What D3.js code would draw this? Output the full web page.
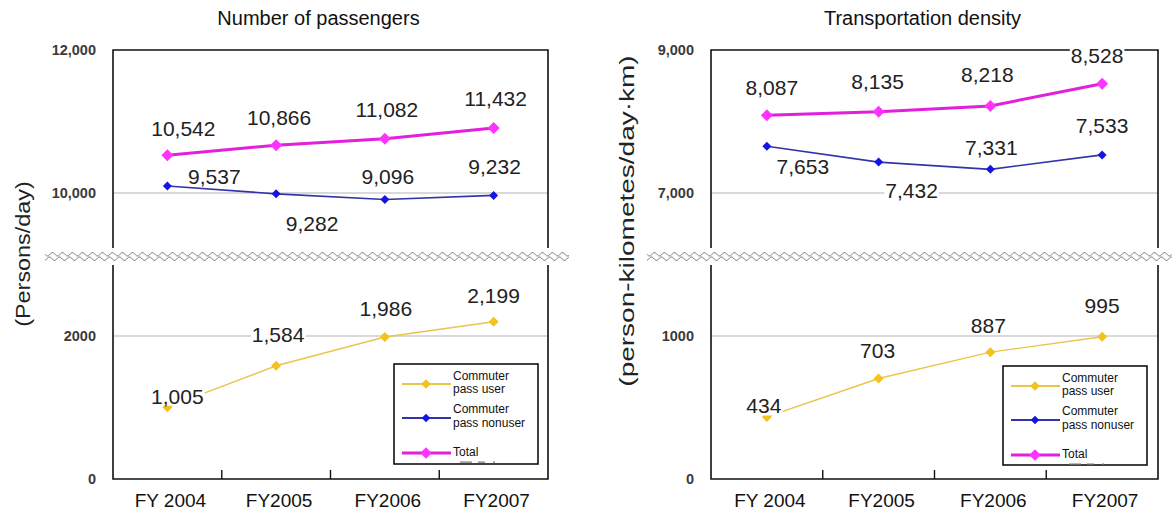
<!DOCTYPE html>
<html><head><meta charset="utf-8">
<script src="https://cdn.jsdelivr.net/npm/d3@7"></script>
<style>
body{margin:0;background:#fff}
svg{display:block;font-family:"Liberation Sans",Arial,sans-serif}
</style></head><body>
<svg id="chart" width="1172" height="514"></svg>
<script>
// ---- data ----
const categories = ["FY 2004", "FY2005", "FY2006", "FY2007"];
const seriesKeys = ["user", "nonuser", "total"];
const legendLines = [["Commuter", "pass user"], ["Commuter", "pass nonuser"], ["Total"]];

const passengersUser    = [1005, 1584, 1986, 2199];
const passengersNonuser = [9537, 9282, 9096, 9232];
const passengersTotal   = [10542, 10866, 11082, 11432];

const densityUser    = [434, 703, 887, 995];
const densityNonuser = [7653, 7432, 7331, 7533];
const densityTotal   = [8087, 8135, 8218, 8528];

const passengersUpperTicks = [10000, 12000];
const passengersUpperTickLabels = ["10,000", "12,000"];
const passengersLowerTicks = [0, 2000];
const passengersLowerTickLabels = ["0", "2000"];

const densityUpperTicks = [7000, 9000];
const densityUpperTickLabels = ["7,000", "9,000"];
const densityLowerTicks = [0, 1000];
const densityLowerTickLabels = ["0", "1000"];

const valueFormat = d3.format(",");

// ---- styles ----
const style = {
  user:    {line: "#e9c54a", lineW: 1.4, mark: "#f2c21e", r: 5},
  nonuser: {line: "#3434a8", lineW: 1.6, mark: "#1414e6", r: 4.5},
  total:   {line: "#e21fdc", lineW: 3,   mark: "#ff33ff", r: 6}
};

// diamond (rotated square) symbol
const diamond = {
  draw(ctx, size) {
    const r = Math.sqrt(size / 2);
    ctx.moveTo(0, -r); ctx.lineTo(r, 0); ctx.lineTo(0, r); ctx.lineTo(-r, 0); ctx.closePath();
  }
};

const svg = d3.select("#chart");

function drawPanel(cfg) {
  const g = svg.append("g");
  const x = d3.scaleBand().domain(categories).range([cfg.left, cfg.right]);
  const cx = d => x(d) + x.bandwidth() / 2;

  // title
  g.append("text").attr("x", (cfg.left + cfg.right) / 2 - 12).attr("y", 25)
    .attr("text-anchor", "middle").attr("font-size", 20).attr("fill", "#111").text(cfg.title);

  // y title (drawn narrow and tall)
  g.append("text")
    .attr("transform", `translate(${cfg.yTitleX},${cfg.yTitleY}) rotate(-90) scale(${cfg.yTitleStretch},1)`)
    .attr("text-anchor", "middle").attr("dominant-baseline", "central")
    .attr("font-size", 20).attr("fill", "#222").text(cfg.yTitle);

  // gridlines
  const grid = [];
  cfg.upperTicks.forEach((t, i) => grid.push({y: cfg.yUpperAxis(t), label: cfg.upperTickLabels[i]}));
  cfg.lowerTicks.forEach((t, i) => grid.push({y: cfg.yLower(t), label: cfg.lowerTickLabels[i]}));
  g.selectAll(".grid").data(grid.filter(d => d.y > cfg.top + 1 && d.y < cfg.bottom - 1)).join("line")
    .attr("x1", cfg.left).attr("x2", cfg.right).attr("y1", d => d.y).attr("y2", d => d.y)
    .attr("stroke", "#b4b4b4").attr("stroke-width", 1.2);
  g.selectAll(".tick").data(grid).join("text")
    .attr("x", cfg.left - 17).attr("y", d => d.y).attr("dy", "0.36em")
    .attr("text-anchor", "end").attr("font-size", 14.5).attr("font-weight", "bold")
    .attr("fill", "#3a3a3a").text(d => d.label);

  // frame
  const frame = g.append("g").attr("stroke", "#111").attr("stroke-width", 1.6).attr("fill", "none");
  frame.append("path").attr("d", `M${cfg.left},${cfg.breakTop}V${cfg.top}H${cfg.right}V${cfg.breakTop}`);
  frame.append("path").attr("d", `M${cfg.left},${cfg.breakBottom}V${cfg.bottom}H${cfg.right}V${cfg.breakBottom}`);
  // inner category ticks
  g.selectAll(".xt").data(categories.slice(1)).join("line")
    .attr("x1", d => x(d)).attr("x2", d => x(d)).attr("y1", cfg.bottom).attr("y2", cfg.bottom - 9)
    .attr("stroke", "#111").attr("stroke-width", 1.4);
  // category labels
  g.selectAll(".xl").data(categories).join("text")
    .attr("x", d => cx(d) + 3).attr("y", cfg.bottom + 28).attr("text-anchor", "middle")
    .attr("font-size", 19).attr("fill", "#111").text(d => d);

  // axis break: white band with two wavy lines
  const bMid = (cfg.breakTop + cfg.breakBottom) / 2;
  g.append("rect").attr("x", cfg.waveX0).attr("y", bMid - 5).attr("width", cfg.waveX1 - cfg.waveX0)
    .attr("height", 10).attr("fill", "#fff");
  const wave = (base, phase) => d3.line()(d3.range(cfg.waveX0, cfg.waveX1 + 0.5, 0.5)
    .map(px => [px, base + 1.7 * Math.sin(2 * Math.PI * (px - cfg.waveX0) / 10 + phase)]));
  g.append("path").attr("d", wave(bMid - 2.2, 0)).attr("fill", "none").attr("stroke", "#707070").attr("stroke-width", 1);
  g.append("path").attr("d", wave(bMid + 2.2, 1.9)).attr("fill", "none").attr("stroke", "#707070").attr("stroke-width", 1);

  // series
  const series = [
    {key: "user", values: cfg.user, y: cfg.yLower, offsets: cfg.offsets.user},
    {key: "nonuser", values: cfg.nonuser, y: cfg.yUpper, offsets: cfg.offsets.nonuser},
    {key: "total", values: cfg.total, y: cfg.yUpper, offsets: cfg.offsets.total}
  ];
  series.forEach(s => {
    const st = style[s.key];
    const pts = s.values.map((v, i) => [cx(categories[i]), s.y(v)]);
    g.append("path").attr("d", d3.line()(pts)).attr("fill", "none")
      .attr("stroke", st.line).attr("stroke-width", st.lineW);
    g.selectAll(null).data(pts).join("path")
      .attr("transform", d => `translate(${d[0]},${d[1]})`)
      .attr("d", d3.symbol(diamond, 2 * st.r * st.r)()).attr("fill", st.mark);
  });
  // value labels on white backing
  series.forEach(s => {
    s.values.forEach((v, i) => {
      const lg = g.append("g");
      const t = lg.append("text")
        .attr("x", cx(categories[i]) + s.offsets[i][0])
        .attr("y", s.y(v) + s.offsets[i][1]).attr("dy", "0.36em")
        .attr("text-anchor", "middle").attr("font-size", 21).attr("fill", "#222")
        .text(valueFormat(v));
      const b = t.node().getBBox();
      lg.insert("rect", "text").attr("x", b.x - 1).attr("y", b.y + 2)
        .attr("width", b.width + 2).attr("height", b.height - 4).attr("fill", "#fff");
    });
  });

  // legend
  const L = cfg.legend;
  const lgd = g.append("g").attr("transform", `translate(${L.x},${L.y})`);
  lgd.append("rect").attr("width", L.w).attr("height", L.h).attr("fill", "#fff")
    .attr("stroke", "#111").attr("stroke-width", 1.6);
  const rows = [
    {key: "user", lineY: 20, textY: [12, 25]},
    {key: "nonuser", lineY: 54, textY: [45, 59]},
    {key: "total", lineY: 89, textY: [88]}
  ];
  rows.forEach((r, i) => {
    const st = style[r.key];
    lgd.append("line").attr("x1", 8).attr("x2", 57).attr("y1", r.lineY).attr("y2", r.lineY)
      .attr("stroke", st.line).attr("stroke-width", r.key === "total" ? 3 : 2);
    lgd.append("path").attr("transform", `translate(32,${r.lineY})`)
      .attr("d", d3.symbol(diamond, 2 * (st.r * 0.95) ** 2)()).attr("fill", st.mark);
    legendLines[i].forEach((txt, j) => {
      lgd.append("text").attr("x", 59).attr("y", r.textY[j]).attr("dy", "0.36em")
        .attr("font-size", 12).attr("fill", "#111").text(txt);
    });
  });
  lgd.selectAll(".smudge").data([[66, 12], [84, 7], [99, 2]]).join("rect")
    .attr("x", d => d[0]).attr("y", 97.5).attr("width", d => d[1]).attr("height", 1.2).attr("fill", "#777");
}

// Number of passengers
drawPanel({
  title: "Number of passengers",
  yTitle: "(Persons/day)", yTitleX: 23, yTitleY: 254, yTitleStretch: 1.17,
  left: 113, right: 548, top: 50, bottom: 479, breakTop: 248, breakBottom: 265,
  waveX0: 45, waveX1: 569,
  yUpperAxis: d3.scaleLinear().domain([10000, 12000]).range([193, 50]),
  yUpper: d3.scaleLinear().domain([9000, 13000]).range([202.5, 79.8]),
  yLower: d3.scaleLinear().domain([0, 2000]).range([479, 336]),
  upperTicks: passengersUpperTicks, upperTickLabels: passengersUpperTickLabels,
  lowerTicks: passengersLowerTicks, lowerTickLabels: passengersLowerTickLabels,
  user: passengersUser, nonuser: passengersNonuser, total: passengersTotal,
  offsets: {
    total: [[16, -27], [3, -28], [2, -29], [2, -29]],
    nonuser: [[47, -10], [36, 30], [3, -23], [1, -29]],
    user: [[10, -11], [2, -31], [1, -29], [0, -26]]
  },
  legend: {x: 394, y: 364, w: 144, h: 100}
});

// Transportation density
const densityUpper = d3.scaleLinear().domain([7000, 9000]).range([193, 50]);
drawPanel({
  title: "Transportation density",
  yTitle: "(person-kilometes/day\u00b7km)", yTitleX: 627, yTitleY: 221, yTitleStretch: 1.4,
  left: 711, right: 1158, top: 50, bottom: 479, breakTop: 248, breakBottom: 265,
  waveX0: 647, waveX1: 1172,
  yUpperAxis: densityUpper,
  yUpper: densityUpper,
  yLower: d3.scaleLinear().domain([0, 1000]).range([479, 336]),
  upperTicks: densityUpperTicks, upperTickLabels: densityUpperTickLabels,
  lowerTicks: densityLowerTicks, lowerTickLabels: densityLowerTickLabels,
  user: densityUser, nonuser: densityNonuser, total: densityTotal,
  offsets: {
    total: [[5, -28], [-1, -30], [-3, -31], [-5, -28]],
    nonuser: [[36, 20], [33, 28], [1, -22], [0, -29]],
    user: [[-3, -11], [-1, -28], [-2, -27], [0, -31]]
  },
  legend: {x: 1003, y: 366, w: 144, h: 99}
});
</script>
</body></html>
